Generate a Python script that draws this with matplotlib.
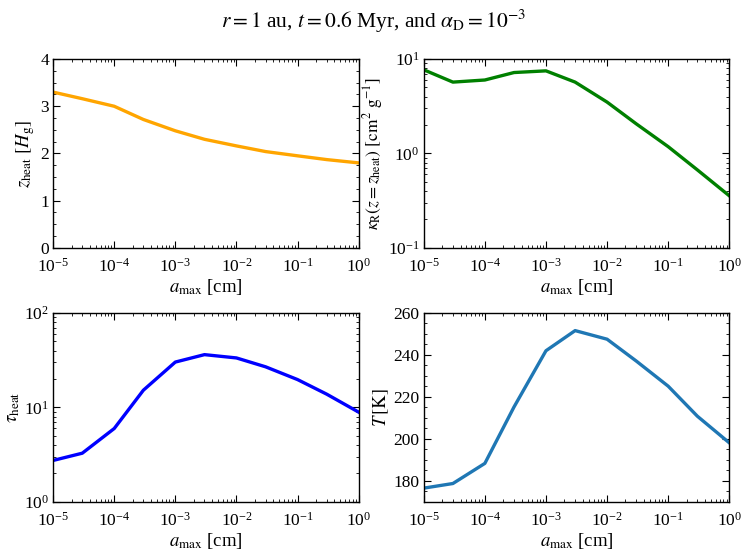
import matplotlib
matplotlib.use('Agg')
import matplotlib.pyplot as plt
from matplotlib.ticker import MultipleLocator, LogLocator, NullFormatter

plt.rcParams['font.family'] = 'Liberation Serif'
plt.rcParams['mathtext.fontset'] = 'stix'
plt.rcParams['font.size'] = 12.5

a_max = [1e-5, 3e-5, 1e-4, 3e-4, 1e-3, 3e-3, 1e-2, 3e-2, 1e-1, 3e-1, 1.0]
z_heat = [3.30, 3.16, 3.00, 2.72, 2.48, 2.30, 2.16, 2.04, 1.95, 1.87, 1.80]
kappa_r = [7.7, 5.7, 6.0, 7.2, 7.5, 5.7, 3.5, 2.06, 1.18, 0.67, 0.356]
tau_heat = [2.74, 3.27, 5.97, 15.2, 30.2, 36.2, 33.4, 26.9, 19.7, 13.8, 8.9]
temp = [176.5, 178.7, 188.3, 215.2, 242.0, 251.6, 247.5, 237.1, 225.1, 210.8, 198.1]

fig, axes = plt.subplots(2, 2, figsize=(7.48, 5.52), dpi=100)
fig.subplots_adjust(left=0.071, right=0.975, top=0.893, bottom=0.091, hspace=0.345, wspace=0.213)
fig.suptitle(r'$r = 1$ au, $t = 0.6$ Myr, and $\alpha_{\rm D} = 10^{-3}$', fontsize=15.5, y=0.985)

ax1, ax2, ax3, ax4 = axes.flat

ax1.plot(a_max, z_heat, color='orange', lw=2.4)
ax1.set_ylim(0, 4)
ax1.set_ylabel(r'$z_{\rm heat}\ [H_{\rm g}]$', fontsize=13.5, labelpad=2)
ax1.yaxis.set_major_locator(MultipleLocator(1))
ax1.yaxis.set_minor_locator(MultipleLocator(0.25))

ax2.plot(a_max, kappa_r, color='green', lw=2.4)
ax2.set_yscale('log')
ax2.set_ylim(0.1, 10)
ax2.set_ylabel(r'$\kappa_{\rm R}(z = z_{\rm heat})\ [{\rm cm}^2\ {\rm g}^{-1}]$', fontsize=12.5, labelpad=2)

ax3.plot(a_max, tau_heat, color='blue', lw=2.4)
ax3.set_yscale('log')
ax3.set_ylim(1, 100)
ax3.set_ylabel(r'$\tau_{\rm heat}$', fontsize=13.5, labelpad=1)

ax4.plot(a_max, temp, color='#1f77b4', lw=2.4)
ax4.set_ylim(170, 260)
ax4.set_ylabel(r'$T\,[{\rm K}]$', fontsize=13.5, labelpad=2)
ax4.yaxis.set_major_locator(MultipleLocator(20))
ax4.yaxis.set_minor_locator(MultipleLocator(5))

for ax in axes.flat:
    ax.set_xscale('log')
    ax.set_xlim(1e-5, 1)
    ax.set_xlabel(r'$a_{\rm max}$ [cm]', fontsize=13.5, labelpad=1)
    ax.xaxis.set_major_locator(LogLocator(base=10, numticks=10))
    ax.xaxis.set_minor_locator(LogLocator(base=10, subs=range(2, 10), numticks=20))
    ax.xaxis.set_minor_formatter(NullFormatter())
    ax.tick_params(which='both', direction='in', top=True, right=True)
    ax.tick_params(which='major', length=5)
    ax.tick_params(which='minor', length=2.5)
    ax.tick_params(axis='x', which='major', pad=7)
    ax.tick_params(axis='y', which='major', pad=3)
    for s in ax.spines.values():
        s.set_linewidth(1.0)

fig.savefig('out.png', dpi=100)
